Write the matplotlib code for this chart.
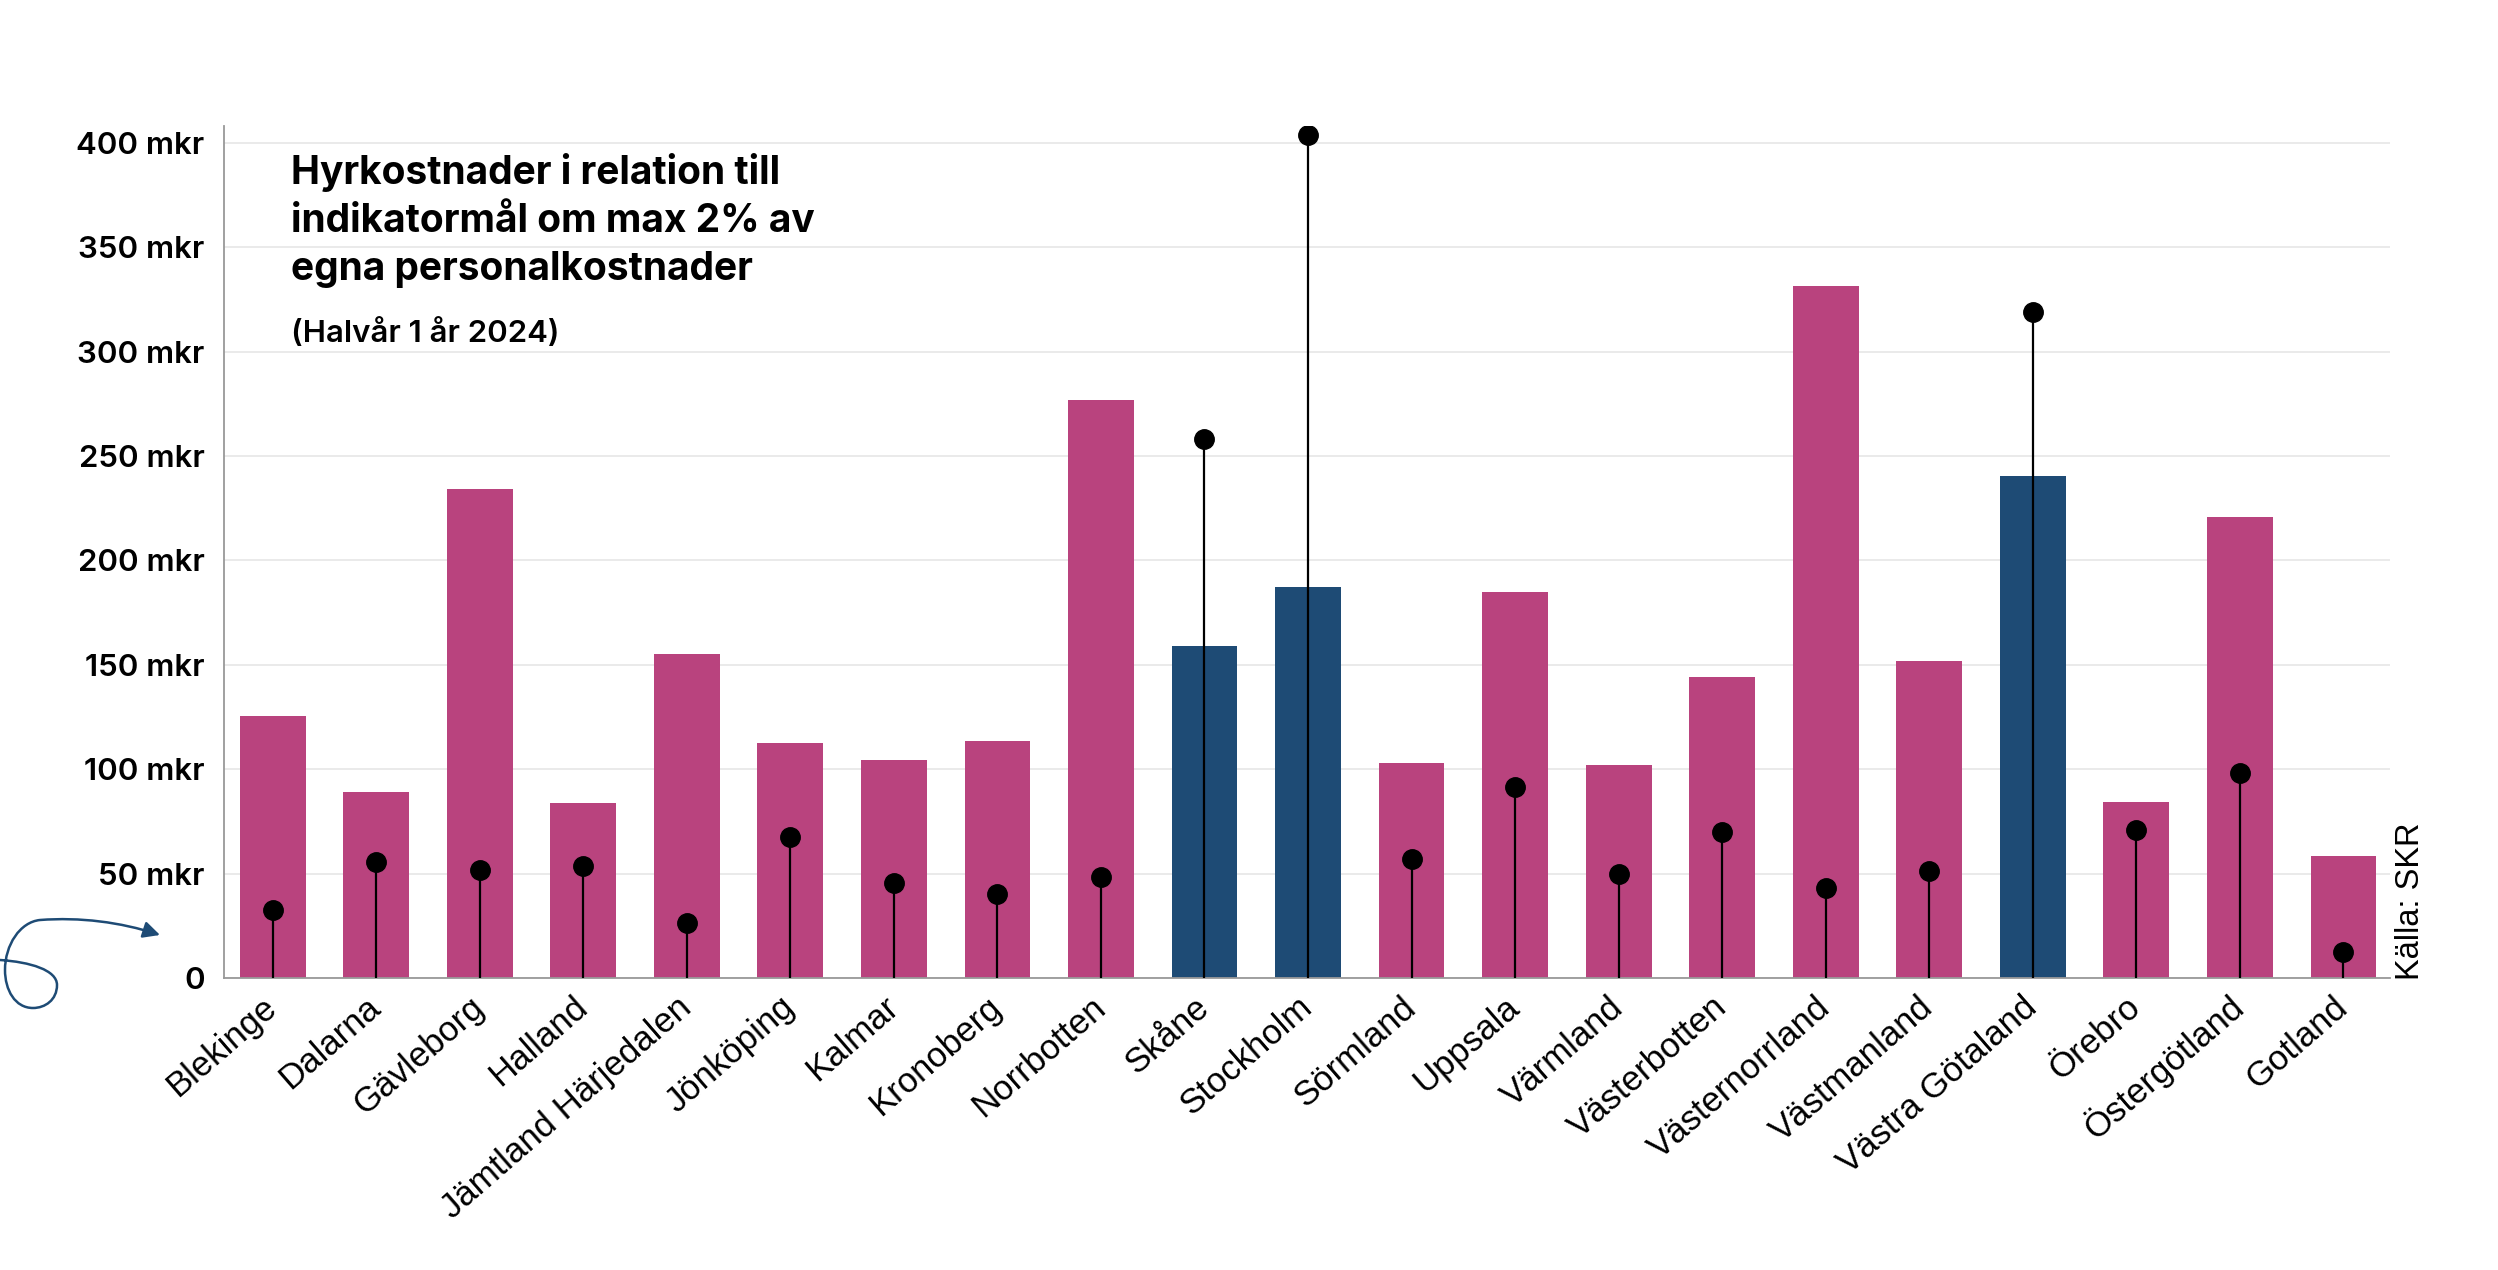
import matplotlib
matplotlib.use("Agg")
import matplotlib.pyplot as plt
from matplotlib.path import Path
from matplotlib.patches import FancyArrowPatch
from matplotlib.transforms import IdentityTransform, ScaledTranslation
import numpy as np

# Data (mkr)
regions = ["Blekinge", "Dalarna", "Gävleborg", "Halland", "Jämtland Härjedalen",
           "Jönköping", "Kalmar", "Kronoberg", "Norrbotten", "Skåne", "Stockholm",
           "Sörmland", "Uppsala", "Värmland", "Västerbotten", "Västernorrland",
           "Västmanland", "Västra Götaland", "Örebro", "Östergötland", "Gotland"]
hyrkostnad = [125.5, 89, 234, 84, 155, 112.5, 104.6, 113.6, 276.7, 159, 187.4,
              102.9, 184.7, 101.8, 144.3, 331.4, 151.6, 240.4, 84.3, 221, 58.2]
indikatormal = [32.8, 55.5, 51.8, 53.5, 26.4, 67.4, 45.4, 40.1, 48.5, 258.2, 403.6,
                57.1, 91.3, 49.8, 70, 43.1, 51.4, 319, 71.1, 98.3, 12.4]
highlight = ["Skåne", "Stockholm", "Västra Götaland"]
yticks = [0, 50, 100, 150, 200, 250, 300, 350, 400]
ytick_labels = ["0"] + [f"{v} mkr" for v in yticks[1:]]

PINK = "#b9437e"
BLUE = "#1e4b75"
FONT = ["Inter", "DejaVu Sans"]
LABEL_FONT = ["Liberation Sans", "DejaVu Sans"]

W, H = 2498, 1270
fig = plt.figure(figsize=(W / 100, H / 100), dpi=100)
ax = fig.add_axes([224 / W, 1 - 978 / H, (2390 - 224) / W, (978 - 126) / H])

x = np.arange(len(regions))
colors = [BLUE if r in highlight else PINK for r in regions]
ax.bar(x, hyrkostnad, width=0.635, color=colors, zorder=2)

# lollipops
ax.vlines(x, 0, indikatormal, color="black", linewidth=1.6, zorder=3)
ax.plot(x, indikatormal, "o", color="black", markersize=14, zorder=4)

ax.set_xlim(-0.47, 20.45)
ax.set_ylim(0, 408)
ax.set_yticks(yticks)
ax.set_yticklabels(ytick_labels, fontsize=22.5, fontweight="semibold", family=FONT)
ax.set_xticks(x)
ax.set_xticklabels(regions, rotation=41, ha="right", va="baseline",
                   rotation_mode="anchor", fontsize=25, family=LABEL_FONT)
ax.tick_params(axis="y", length=0, pad=14)
ax.tick_params(axis="x", length=0, pad=23)
# nudge the rotated labels slightly to the right
shift = ScaledTranslation(6 / 100, 0, fig.dpi_scale_trans)
for lab in ax.get_xticklabels():
    lab.set_transform(lab.get_transform() + shift)
ax.grid(axis="y", color="#e8e8e8", linewidth=1.3, zorder=0)
ax.set_axisbelow(True)
for s in ["top", "right"]:
    ax.spines[s].set_visible(False)
for s in ["left", "bottom"]:
    ax.spines[s].set_color("#999999")
    ax.spines[s].set_linewidth(1.3)

# title
fig.text(291 / W, 1 - 153 / H,
         "Hyrkostnader i relation till\nindikatormål om max 2% av\negna personalkostnader",
         fontsize=28, fontweight="bold", family=FONT, va="top", ha="left",
         linespacing=1.38)
fig.text(291 / W, 1 - 318 / H, "(Halvår 1 år 2024)", fontsize=22.5,
         fontweight="semibold", family=FONT, va="top", ha="left")

fig.text(2395 / W, 1 - 980 / H, "Källa: SKR", rotation=90, fontsize=23.5,
         family=LABEL_FONT, va="bottom", ha="left")

# curly arrow decoration (pixel coordinates)
pts = [(0, 960), (30, 962), (57, 970), (57, 985),
       (57, 1000), (45, 1008), (33, 1008),
       (15, 1008), (5, 990), (5, 970),
       (5, 945), (20, 922), (40, 920),
       (80, 917), (120, 922), (160, 935)]
verts = [(px, H - py) for px, py in pts]
codes = [Path.MOVETO] + [Path.CURVE4] * (len(verts) - 1)
arrow = FancyArrowPatch(path=Path(verts, codes), arrowstyle="-|>,head_length=10,head_width=5",
                        color=BLUE, linewidth=1.8, transform=IdentityTransform())
fig.add_artist(arrow)

fig.savefig("out.png", dpi=100)
